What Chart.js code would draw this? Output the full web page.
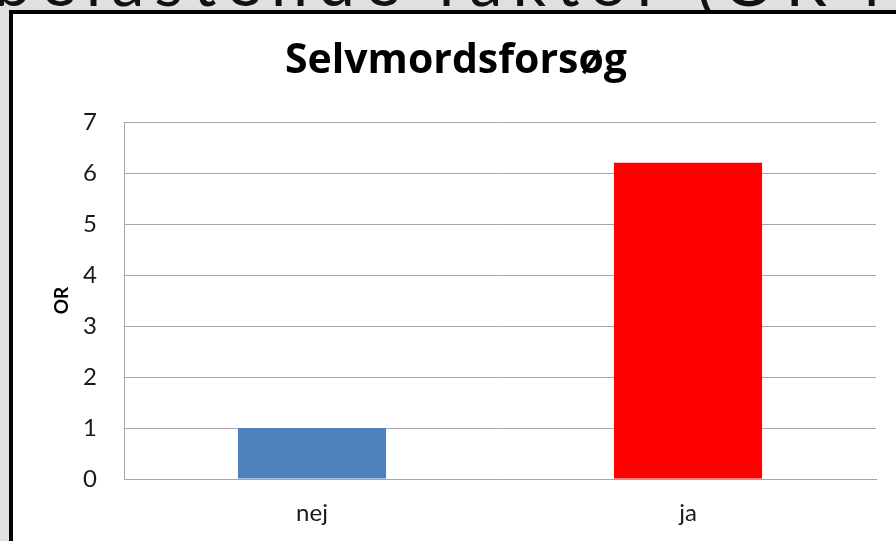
<!DOCTYPE html>
<html>
<head>
<meta charset="utf-8">
<script src="https://cdn.jsdelivr.net/npm/chart.js@4.4.1/dist/chart.umd.min.js"></script>
<style>
  html, body { margin: 0; padding: 0; }
  body { width: 896px; height: 541px; overflow: hidden; background: #e0e0e0; position: relative; font-family: Lato, sans-serif; }
  #heading { position: absolute; left: -6px; top: -52px; font-size: 66px; line-height: 66px; color: #111; white-space: nowrap; letter-spacing: 10px; }
  #frame { position: absolute; left: 9px; top: 10px; width: 1000px; height: 700px; border: 4px solid #000; background: #fff; }
  #chart { position: absolute; left: 13px; top: 14px; }
</style>
</head>
<body>
<div id="heading">belastende faktor (OR i</div>
<div id="frame"></div>
<canvas id="chart" width="886" height="527"></canvas>
<script>
// chart data
const categories = ["nej", "ja"];
const orValues = [1, 6.2];
const barColors = ["#4F81BD", "#FF0000"];
const yTicks = [0, 1, 2, 3, 4, 5, 6, 7];

const gridGray = "#a6a6a6";

const ctx = document.getElementById("chart").getContext("2d");

new Chart(ctx, {
    type: "bar",
    data: {
        labels: categories,
        datasets: [{
            label: "OR",
            data: orValues,
            backgroundColor: barColors,
            borderWidth: 0,
            categoryPercentage: 1,
            barPercentage: 0.394
        }]
    },
    options: {
        responsive: false,
        animation: false,
        // equal side padding keeps the title centred on the whole frame
        layout: { padding: { left: 23, right: 23, top: 0, bottom: 0 } },
        plugins: {
            legend: { display: false },
            tooltip: { enabled: false },
            title: {
                display: true,
                text: "Selvmordsforsøg",
                color: "#000",
                font: { family: "Open Sans", size: 41, weight: "bold" },
                padding: { top: 23, bottom: 35.8 }
            }
        },
        scales: {
            y: {
                min: yTicks[0],
                max: yTicks[yTicks.length - 1],
                afterBuildTicks: scale => { scale.ticks = yTicks.map(v => ({ value: v })); },
                afterFit: scale => { scale.width = 88; },
                grid: { color: gridGray, drawTicks: false, lineWidth: 1 },
                border: { color: gridGray },
                ticks: {
                    color: "#1a1a1a",
                    padding: 27,
                    font: { family: "Lato", size: 24 }
                },
                title: {
                    display: true,
                    text: "OR",
                    color: "#000",
                    font: { family: "Lato", size: 19, weight: "bold" },
                    padding: { top: 14, bottom: 0 }
                }
            },
            x: {
                afterFit: scale => { scale.height = 62; },
                grid: { display: false, drawTicks: false },
                border: { color: gridGray },
                ticks: {
                    color: "#1a1a1a",
                    padding: 20,
                    font: { family: "Lato", size: 24 }
                }
            }
        }
    }
});
</script>
</body>
</html>
